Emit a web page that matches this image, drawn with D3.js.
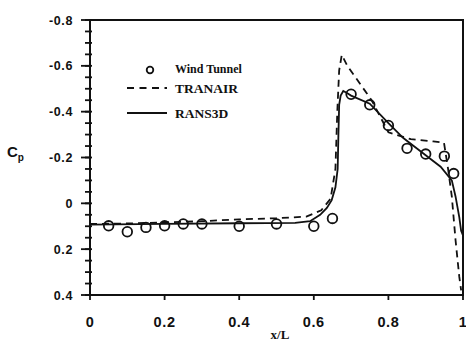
<!DOCTYPE html>
<html>
<head>
<meta charset="utf-8">
<script src="https://cdn.jsdelivr.net/npm/d3@7"></script>
<style>
  body { margin: 0; background: #fff; }
  .tick-label { font-family: "Liberation Sans", Arial, sans-serif; font-weight: bold; fill: #111; }
  .serif { font-family: "Liberation Serif", "Times New Roman", serif; font-weight: bold; fill: #111; }
</style>
</head>
<body>
<div class="graph-container"></div>
<script>
// Wind tunnel measurements (x/L, Cp)
const tunnelX  = [0.05, 0.10, 0.15, 0.20, 0.25, 0.30, 0.40, 0.50, 0.60, 0.65,
                  0.70, 0.75, 0.80, 0.85, 0.90, 0.95, 0.975];
const tunnelCp = [0.098, 0.124, 0.105, 0.098, 0.09, 0.09, 0.10, 0.09, 0.10, 0.066,
                  -0.476, -0.43, -0.34, -0.24, -0.215, -0.206, -0.13];

// TRANAIR (dashed)
const tranairX  = [0, 0.1, 0.3, 0.4, 0.5, 0.58, 0.62, 0.645, 0.658, 0.663, 0.668,
                   0.675, 0.69, 0.755, 0.8, 0.86, 0.92, 0.949, 0.96, 0.97, 0.98, 0.99, 0.995];
const tranairCp = [0.09, 0.088, 0.078, 0.07, 0.065, 0.058, 0.03, -0.02, -0.15, -0.4, -0.58,
                   -0.648, -0.6, -0.45, -0.31, -0.28, -0.27, -0.265, -0.15, -0.03, 0.16, 0.32, 0.38];

// RANS3D (solid)
const ransX  = [0, 0.2, 0.4, 0.55, 0.59, 0.617, 0.635, 0.648, 0.658, 0.664, 0.666, 0.668,
                0.672, 0.679, 0.69, 0.7, 0.75, 0.8, 0.84, 0.9, 0.94, 0.97, 0.98, 0.99, 0.995, 1.0];
const ransCp = [0.093, 0.09, 0.087, 0.085, 0.078, 0.05, 0.02, -0.014, -0.07, -0.15, -0.3, -0.43,
                -0.47, -0.49, -0.48, -0.47, -0.435, -0.35, -0.285, -0.21, -0.16, -0.1, -0.03, 0.06, 0.12, 0.14];

const xTicks = [0, 0.2, 0.4, 0.6, 0.8, 1];
const yTicks = [-0.8, -0.6, -0.4, -0.2, 0, 0.2, 0.4];
const yMinor = d3.range(-0.8, 0.401, 0.05);

const width = 466, height = 343;
const margin = {left: 90, top: 20, right: 3, bottom: 48};
const plotWidth = width - margin.left - margin.right;
const plotHeight = height - margin.top - margin.bottom;

const svg = d3.select('.graph-container')
              .append('svg')
              .attr('width', width)
              .attr('height', height);

const panel = svg.append('g')
                 .attr('transform', `translate(${margin.left},${margin.top})`);

const xScale = d3.scaleLinear().domain([0, 1]).range([0, plotWidth]);
const yScale = d3.scaleLinear().domain([-0.8, 0.4]).range([0, plotHeight]);

// Frame
panel.append('rect')
     .attr('x', 0).attr('y', 0)
     .attr('width', plotWidth).attr('height', plotHeight)
     .attr('fill', 'none')
     .attr('stroke', '#111')
     .attr('stroke-width', 2);

// Y axis: minor ticks then major ticks with labels
panel.selectAll('.y-minor')
     .data(yMinor)
     .enter().append('line')
     .attr('class', 'y-minor')
     .attr('x1', -5).attr('x2', 2)
     .attr('y1', d => yScale(d)).attr('y2', d => yScale(d))
     .attr('stroke', '#111').attr('stroke-width', 1.8);

panel.selectAll('.y-major')
     .data(yTicks)
     .enter().append('line')
     .attr('class', 'y-major')
     .attr('x1', -9).attr('x2', 0)
     .attr('y1', d => yScale(d)).attr('y2', d => yScale(d))
     .attr('stroke', '#111').attr('stroke-width', 1.8);

panel.selectAll('.y-label')
     .data(yTicks)
     .enter().append('text')
     .attr('class', 'tick-label y-label')
     .attr('x', -17)
     .attr('y', d => yScale(d) + 4.5)
     .attr('text-anchor', 'end')
     .attr('font-size', 12.5)
     .attr('letter-spacing', 0.6)
     .text(d => d === 0 ? '0' : d3.format('.1f')(d).replace('−', '-'));

// X axis ticks and labels
panel.selectAll('.x-major')
     .data(xTicks)
     .enter().append('line')
     .attr('class', 'x-major')
     .attr('x1', d => xScale(d)).attr('x2', d => xScale(d))
     .attr('y1', plotHeight).attr('y2', plotHeight + 5)
     .attr('stroke', '#111').attr('stroke-width', 1.8);

panel.selectAll('.x-label')
     .data(xTicks)
     .enter().append('text')
     .attr('class', 'tick-label x-label')
     .attr('x', d => xScale(d))
     .attr('y', plotHeight + 32)
     .attr('text-anchor', 'middle')
     .attr('font-size', 14.5)
     .attr('letter-spacing', 0.6)
     .text(d => d === 0 || d === 1 ? String(d) : d3.format('.1f')(d));

// Axis titles
svg.append('text')
   .attr('class', 'serif')
   .attr('x', 280)
   .attr('y', 339)
   .attr('text-anchor', 'middle')
   .attr('font-size', 13)
   .text('x/L');

const cp = svg.append('text')
              .attr('class', 'tick-label')
              .attr('x', 7)
              .attr('y', 157)
              .attr('font-size', 15);
cp.append('tspan').text('C');
cp.append('tspan').attr('font-size', 10).attr('dy', 4).text('p');

// Series lines
const line = d3.line()
               .x(d => xScale(d[0]))
               .y(d => yScale(d[1]));

panel.append('path')
     .datum(d3.zip(tranairX, tranairCp))
     .attr('fill', 'none')
     .attr('stroke', '#111')
     .attr('stroke-width', 1.8)
     .attr('stroke-dasharray', '7,5')
     .attr('d', line);

panel.append('path')
     .datum(d3.zip(ransX, ransCp))
     .attr('fill', 'none')
     .attr('stroke', '#111')
     .attr('stroke-width', 1.8)
     .attr('d', line);

panel.selectAll('.tunnel')
     .data(d3.zip(tunnelX, tunnelCp))
     .enter().append('circle')
     .attr('class', 'tunnel')
     .attr('cx', d => xScale(d[0]))
     .attr('cy', d => yScale(d[1]))
     .attr('r', 4.8)
     .attr('fill', 'none')
     .attr('stroke', '#111')
     .attr('stroke-width', 1.8);

// Legend
const legend = svg.append('g').attr('class', 'legend');

legend.append('circle')
      .attr('cx', 150).attr('cy', 70).attr('r', 3.3)
      .attr('fill', 'none').attr('stroke', '#111').attr('stroke-width', 1.8);
legend.append('line')
      .attr('x1', 127).attr('x2', 167).attr('y1', 88).attr('y2', 88)
      .attr('stroke', '#111').attr('stroke-width', 1.8)
      .attr('stroke-dasharray', '7,5.5');
legend.append('line')
      .attr('x1', 127).attr('x2', 167).attr('y1', 113).attr('y2', 113)
      .attr('stroke', '#111').attr('stroke-width', 1.8);

const legendNames = ['Wind Tunnel', 'TRANAIR', 'RANS3D'];
legend.selectAll('.legend-label')
      .data(legendNames)
      .enter().append('text')
      .attr('class', 'serif legend-label')
      .attr('x', 175)
      .attr('y', (d, i) => [73, 93, 118][i])
      .attr('font-size', (d, i) => i === 0 ? 12 : 13.5)
      .text(d => d);
</script>
</body>
</html>
